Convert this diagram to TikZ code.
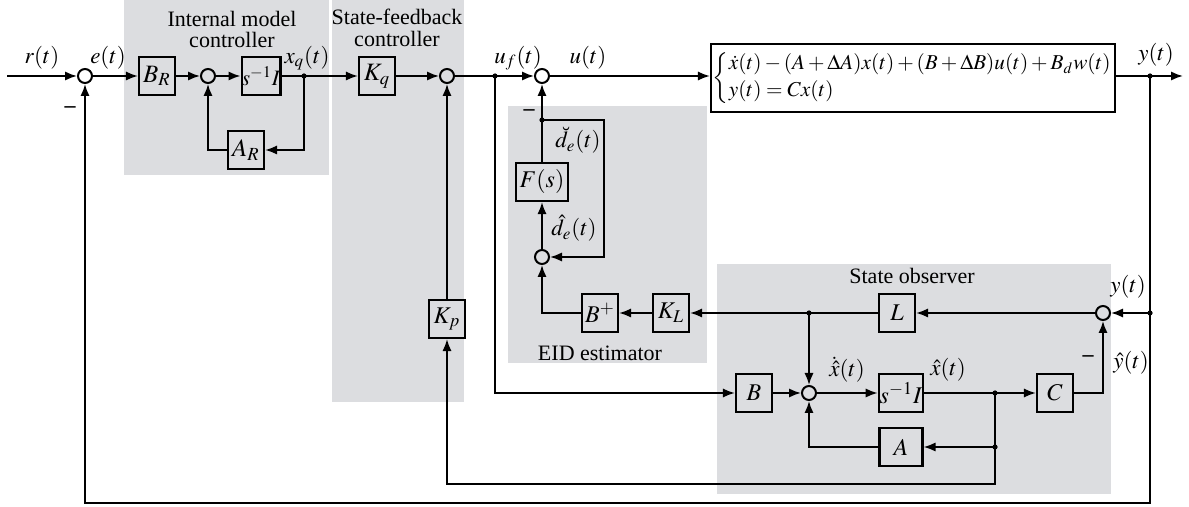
\documentclass[tikz,border=0pt]{standalone}
\usepackage{mathptmx}
\usepackage{fontspec}
\setmainfont{Liberation Serif}
\usetikzlibrary{arrows.meta}
\definecolor{panel}{RGB}{220,221,224}
\begin{document}
\begin{tikzpicture}[x=0.5pt,y=-0.5pt,
  sumnode/.style={circle,draw,line width=1pt,minimum size=7pt,inner sep=0pt},
  blk/.style={draw,line width=1.1pt,minimum width=18pt,minimum height=19pt,inner sep=0.5pt,font=\fontsize{12.5}{14}\selectfont},
  wire/.style={line width=0.9pt},
  arr/.style={wire,-{Latex[length=6pt,width=4.6pt]}},
  lbl/.style={inner sep=0pt,font=\fontsize{11.5}{13}\selectfont},
  ttl/.style={inner sep=0pt,font=\fontsize{11}{12}\selectfont},
  minus/.style={inner sep=0pt,font=\fontsize{11}{13}\selectfont\bfseries},
  jdot/.style={circle,fill,inner sep=0pt,minimum size=2.6pt}]
\useasboundingbox (0,0) rectangle (1189,507);
% panels
\fill[panel] (124,0) rectangle (329,175);
\fill[panel] (332,0) rectangle (464,402);
\fill[panel] (508,106) rectangle (707,363);
\fill[panel] (717,264) rectangle (1111,494);
% titles
\node[ttl] (t1) at (232,19) {Internal model};
\node[ttl] (t2) at (232,40) {controller};
\node[ttl] (t3) at (397,17) {State-feedback};
\node[ttl] (t4) at (397,39) {controller};
\node[ttl] (t5) at (600,353) {EID estimator};
\node[ttl] (t6) at (912,276) {State observer};
% sums
\node[sumnode] (s1) at (85,76) {};
\node[sumnode] (s2) at (208,76) {};
\node[sumnode] (s3) at (447,76) {};
\node[sumnode] (s4) at (542,76) {};
\node[sumnode] (s5) at (1103,313) {};
\node[sumnode] (s6) at (809,393) {};
\node[sumnode] (s7) at (542,257) {};
% blocks
\node[blk] (BR) at (157,76) {$B_R$};
\node[blk,minimum width=18.5pt,inner sep=0pt,font=\fontsize{11}{13}\selectfont] (SI1) at (261,76) {$s^{-1}I$};
\node[blk] (AR) at (246,150) {$A_R$};
\node[blk] (Kq) at (377,76) {$K_q$};
\node[blk,font=\fontsize{12}{14}\selectfont] (Kp) at (447,319) {$K_p$};
\node[blk,minimum width=26pt,font=\fontsize{12}{14}\selectfont] (F) at (542,182) {$F(s)$};
\node[blk,font=\fontsize{12}{14}\selectfont] (Bp) at (600,313) {$B^{+}$};
\node[blk,font=\fontsize{12}{14}\selectfont] (KL) at (671,313) {$K_L$};
\node[blk,font=\fontsize{12}{14}\selectfont] (L) at (897,313) {$L$};
\node[blk,font=\fontsize{12}{14}\selectfont] (B) at (754,393) {$B$};
\node[blk,minimum width=21.5pt,font=\fontsize{12}{14}\selectfont] (SI2) at (901,393) {$s^{-1}I$};
\node[blk,minimum width=21.5pt,font=\fontsize{12}{14}\selectfont] (A) at (901,447) {$A$};
\node[blk,font=\fontsize{12}{14}\selectfont] (C) at (1055,393) {$C$};
\node[draw,line width=1.1pt,minimum width=202pt,minimum height=34pt,inner sep=0pt,font=\fontsize{10.6}{12.5}\selectfont] (P) at (913,78)
  {$\left\{\begin{array}{@{}l@{}}\dot{x}(t)-(A+\Delta A)x(t)+(B+\Delta B)u(t)+B_d w(t)\\[1pt] y(t)=Cx(t)\end{array}\right.$};
% coordinates
\coordinate (rin) at (7,76);
\coordinate (xq) at (304,76);
\coordinate (uf) at (495,76);
\coordinate (yj) at (1150,76);
\coordinate (yout) at (1183,76);
\coordinate (yb) at (1150,503);
\coordinate (jy) at (1150,313);
\coordinate (jd) at (542,120);
\coordinate (dr) at (604,120);
\coordinate (jL) at (809,313);
\coordinate (jx) at (995,393);
\coordinate (jA) at (995,447);
\coordinate (kb) at (995,484);
% wires
\draw[arr] (rin) -- (s1);
\draw[arr] (s1) -- (BR);
\draw[arr] (BR) -- (s2);
\draw[arr] (s2) -- (SI1);
\draw[arr] (SI1.east) -- (xq) -- (Kq.west);
\draw[arr] (xq) |- (AR.east);
\draw[arr] (AR.west) -| (s2.south);
\draw[arr] (Kq) -- (s3);
\draw[arr] (s3.east) -- (uf) -- (s4.west);
\draw[arr] (s4.east) -- (s4.east -| P.west);
\draw[arr] (P.east |- yj) -- (yj) -- (yout);
\draw[arr] (yj) -- (yb) -| (s1.south);
\draw[arr] (jy) -- (s5.east);
\draw[arr] (s5.west) -- (L.east);
\draw[arr] (L.west) -- (jL) -- (KL.east);
\draw[arr] (KL.west) -- (Bp.east);
\draw[arr] (Bp.west) -| (s7.south);
\draw[arr] (s7.north) -- (F.south);
\draw[arr] (F.north) -- (jd) -- (s4.south);
\draw[arr] (jd) -- (dr) |- (s7.east);
\draw[arr] (jL) -- (s6.north);
\draw[arr] (uf) |- (B.west);
\draw[arr] (B.east) -- (s6.west);
\draw[arr] (s6.east) -- (SI2.west);
\draw[arr] (SI2.east) -- (jx) -- (C.west);
\draw[arr] (C.east) -| (s5.south);
\draw[arr] (jx) -- (jA) -- (A.east);
\draw[arr] (A.west) -| (s6.south);
\draw[arr] (jA) -- (kb) -| (Kp.south);
\draw[arr] (Kp.north) -- (s3.south);
% junction dots
\foreach \p in {xq,uf,yj,jy,jd,jL,jx,jA} \node[jdot] at (\p) {};
% labels
\node[lbl] (lr) at (42,58) {$r(t)$};
\node[lbl] (le) at (108,58) {$e(t)$};
\node[lbl] (lxq) at (307,58) {$x_q(t)$};
\node[lbl] (luf) at (518,58) {$u_f(t)$};
\node[lbl] (lu) at (588,58) {$u(t)$};
\node[lbl] (ly) at (1156,55) {$y(t)$};
\node[lbl] (ldt) at (578,140) {$\breve{d}_e(t)$};
\node[lbl] (ldh) at (574,228) {$\hat{d}_e(t)$};
\node[lbl] (ly2) at (1128,287) {$y(t)$};
\node[lbl] (lyh) at (1131,363) {$\hat{y}(t)$};
\node[lbl] (lxd) at (847,370) {$\dot{\hat{x}}(t)$};
\node[lbl] (lxh) at (948,370) {$\hat{x}(t)$};
\node[minus] (m1) at (70,110) {--};
\node[minus] (m2) at (529,113) {--};
\node[minus] (m3) at (1088,359) {--};
\end{tikzpicture}
\end{document}
